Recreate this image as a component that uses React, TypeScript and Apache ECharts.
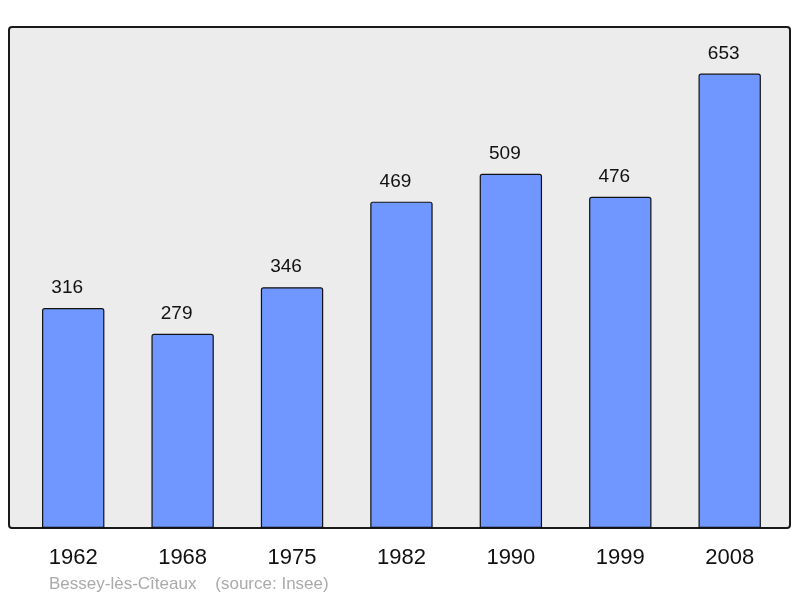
import React, { useEffect, useRef } from "react";
import * as echarts from "echarts";

const years = ["1962", "1968", "1975", "1982", "1990", "1999", "2008"];
const population = [316, 279, 346, 469, 509, 476, 653];
const footerText = "Bessey-lès-Cîteaux    (source: Insee)";

export default function App() {
  const ref = useRef<HTMLDivElement>(null);
  useEffect(() => {
    if (!ref.current) return;
    const chart = echarts.init(ref.current, null, { renderer: "svg" });
    chart.setOption({
      animation: false,
      textStyle: { fontFamily: "Liberation Sans, Arial, sans-serif" },
      grid: { left: 18.5, right: 15.6, top: 27, bottom: 70 },
      graphic: [
        {
          type: "rect",
          z: -10,
          shape: { x: 9, y: 27, width: 781, height: 501, r: 3 },
          style: { fill: "#ececec", stroke: "#1a1a1a", lineWidth: 2 },
        },
        {
          type: "text",
          left: 49,
          top: 575,
          style: {
            text: footerText,
            fill: "#aaaaaa",
            font: "17px Liberation Sans, Arial, sans-serif",
          },
        },
      ],
      xAxis: {
        type: "category",
        data: years,
        axisLine: { show: false },
        axisTick: { show: false },
        axisLabel: {
          color: "#111",
          fontSize: 22,
          margin: 17,
          fontFamily: "Liberation Sans, Arial, sans-serif",
        },
      },
      yAxis: {
        type: "value",
        min: 0,
        max: 720,
        show: false,
        splitLine: { show: false },
      },
      series: [
        {
          type: "bar",
          data: population,
          barWidth: "57%",
          itemStyle: {
            color: "#6f97ff",
            borderColor: "#111",
            borderWidth: 1.2,
            borderRadius: [2, 2, 0, 0],
          },
          label: {
            show: true,
            position: "top",
            distance: 12,
            offset: [-6, 0],
            color: "#111",
            fontSize: 19,
            fontFamily: "Liberation Sans, Arial, sans-serif",
          },
        },
      ],
    });
    return () => chart.dispose();
  }, []);
  return (
    <div
      ref={ref}
      style={{ position: "fixed", left: 0, top: 0, width: 800, height: 598 }}
    />
  );
}
